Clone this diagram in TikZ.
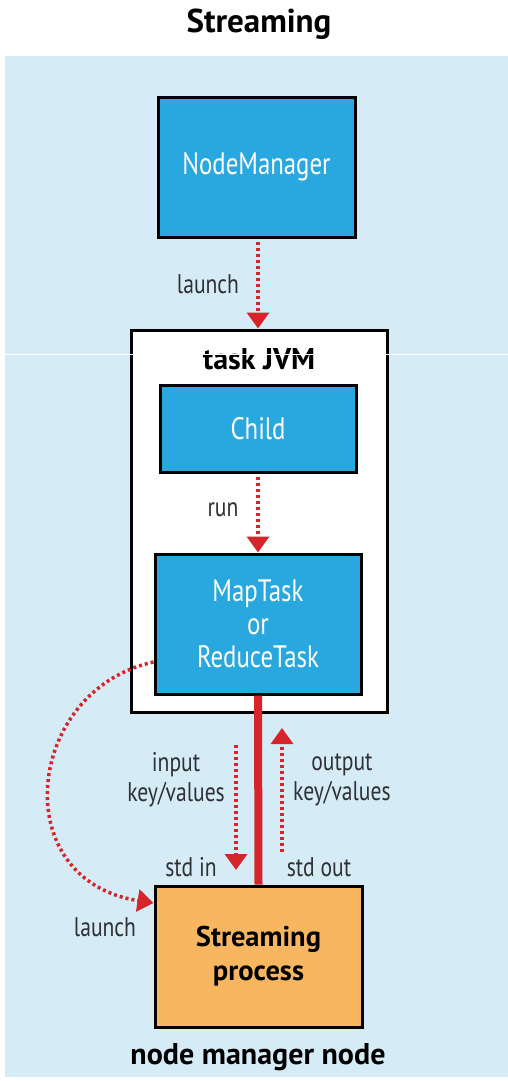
\documentclass[tikz,border=0pt]{standalone}
\usepackage{fontspec}
\setmainfont{PT Sans}
\newfontfamily\condf{PT Sans}[FakeStretch=0.8]
\usetikzlibrary{arrows.meta}
\definecolor{bgblue}{HTML}{D5ECF7}
\definecolor{boxblue}{HTML}{29A8E0}
\definecolor{arrred}{HTML}{D5252B}
\definecolor{procorange}{HTML}{F8B660}
\definecolor{labgray}{HTML}{2E3034}
\tikzset{
  x=1pt, y=-1pt,
  bluebox/.style={draw=black, line width=3pt, fill=boxblue, text=white, align=center,
    font=\condf\fontsize{31}{33}\selectfont, inner sep=0pt},
  jvmbox/.style={draw=black, line width=3pt, fill=white, inner sep=0pt},
  procbox/.style={draw=black, line width=3pt, fill=procorange, text=black, align=center,
    font=\bfseries\fontsize{28.5}{34}\selectfont, inner sep=0pt},
  lab/.style={text=labgray, align=center, font=\condf\fontsize{27}{30}\selectfont, inner sep=0pt},
  title/.style={text=black, font=\bfseries\fontsize{33}{36}\selectfont, inner sep=0pt},
  dotarrow/.style={draw=arrred, line width=3.5pt, dash pattern=on 3pt off 3pt,
    -{Triangle[width=22pt,length=16pt,fill=arrred]}},
  thickline/.style={draw=arrred, line width=8pt},
}
\begin{document}
\begin{tikzpicture}
\useasboundingbox (0,0) rectangle (508,1081);
\fill[white] (0,0) rectangle (508,1081);
\fill[bgblue] (5,56) rectangle (508,1077);

\node[title] (ttl) at (259,24) {Streaming};

\node[bluebox, minimum width=197pt, minimum height=140pt] (nm) at (256.5,167) {NodeManager};
\node[jvmbox, minimum width=256pt, minimum height=382pt] (jvm) at (259,521) {};
\node[title, font=\bfseries\fontsize{30}{34}\selectfont] (jvmt) at (259,359) {task JVM};
\node[bluebox, minimum width=196pt, minimum height=87pt] (child) at (258,428.5) {Child};
\node[bluebox, minimum width=206pt, minimum height=140pt] (task) at (258,624) {MapTask\\or\\ReduceTask};
\node[procbox, minimum width=207pt, minimum height=141pt] (sp) at (258.5,956.5) {Streaming\\process};
\node[title, font=\bfseries\fontsize{30}{34}\selectfont] (nmn) at (258,1057) {node manager node};

% connectors
\draw[dotarrow, shorten <=3pt] (nm.south -| 258,0) -- (jvm.north -| 258,0);
\node[lab] (l1) at (208,284) {launch};
\draw[dotarrow, shorten <=3pt] (child.south) -- (task.north);
\node[lab] (l2) at (223,510) {run};
\draw[thickline] (task.south) -- (sp.north);

\coordinate (inA) at (236,745);
\coordinate (inB) at (236,870);
\draw[dotarrow] (inA) -- (inB);
\node[lab, anchor=east] (l3) at (225,780) {input\\key/values};
\node[lab] (l4) at (191,867) {std in};

\coordinate (outA) at (282,852);
\coordinate (outB) at (282,728);
\draw[dotarrow] (outA) -- (outB);
\node[lab, anchor=west] (l5) at (293,780) {output\\key/values};
\node[lab] (l6) at (319,867) {std out};

\draw[dotarrow] (task.west |- 0,662) .. controls (25,690) and (5,880) .. (sp.west |- 0,903);
\node[lab] (l7) at (105,927) {launch};

% scan artifact line
\draw[white, line width=1.5pt] (0,354.5) -- (508,354.5);
\end{tikzpicture}
\end{document}
